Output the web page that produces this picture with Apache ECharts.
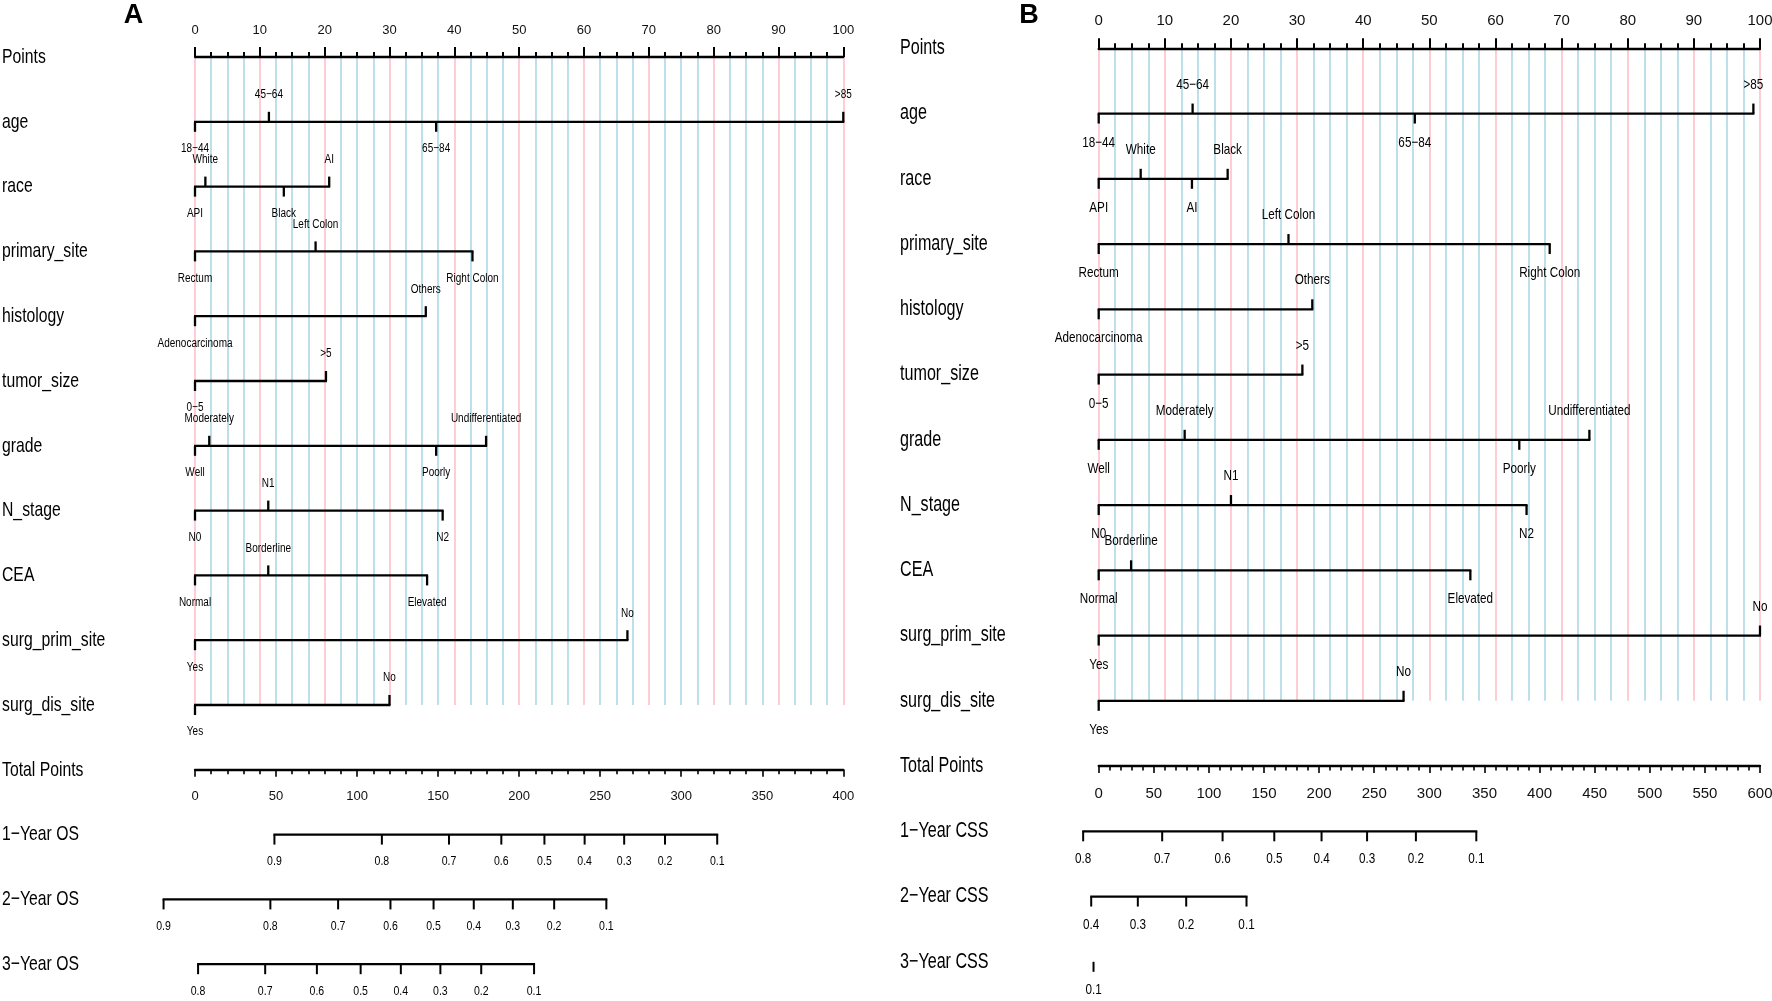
<!DOCTYPE html>
<html><head><meta charset="utf-8">
<script src="https://cdn.jsdelivr.net/npm/echarts@6/dist/echarts.min.js"></script>
<style>html,body{margin:0;padding:0;background:#fff}#c{width:1772px;height:1001px}</style>
</head><body><div id="c"></div>
<script>
// ---------- data ----------
const rowNames = ['Points','age','race','primary_site','histology','tumor_size','grade','N_stage','CEA','surg_prim_site','surg_dis_site'];

const ageLevels = ['18\u221244','45\u221264','65\u221284','>85'];
const ageA = [0, 11.4, 37.2, 100];
const ageB = [0, 14.2, 47.8, 99.0];

const raceLevels = ['API','White','Black','AI'];
const raceA = [0, 1.6, 13.7, 20.7];
const raceB = [0, 6.35, 19.5, 14.1];

const siteLevels = ['Rectum','Left Colon','Right Colon'];
const siteA = [0, 18.6, 42.8];
const siteB = [0, 28.7, 68.2];

const histLevels = ['Adenocarcinoma','Others'];
const histA = [0, 35.6];
const histB = [0, 32.3];

const sizeLevels = ['0\u22125','>5'];
const sizeA = [0, 20.2];
const sizeB = [0, 30.8];

const gradeLevels = ['Well','Moderately','Poorly','Undifferentiated'];
const gradeA = [0, 2.2, 37.2, 44.9];
const gradeB = [0, 13.0, 63.6, 74.2];

const nLevels = ['N0','N1','N2'];
const nA = [0, 11.3, 38.2];
const nB = [0, 20.0, 64.7];

const ceaLevels = ['Normal','Borderline','Elevated'];
const ceaA = [0, 11.3, 35.8];
const ceaB = [0, 4.9, 56.2];

const surgPrimLevels = ['Yes','No'];
const surgPrimA = [0, 66.7];
const surgPrimB = [0, 100];

const surgDisLevels = ['Yes','No'];
const surgDisA = [0, 30.0];
const surgDisB = [0, 46.1];

const totalMaxA = 400;
const totalMaxB = 600;

const survNamesA = ['1\u2212Year OS','2\u2212Year OS','3\u2212Year OS'];
const os1Labels = ['0.9','0.8','0.7','0.6','0.5','0.4','0.3','0.2','0.1'];
const os1A = [49.0, 115.3, 156.7, 189.0, 215.6, 240.4, 264.8, 290.0, 322.2];
const os2Labels = ['0.9','0.8','0.7','0.6','0.5','0.4','0.3','0.2','0.1'];
const os2A = [-19.4, 46.5, 88.3, 120.6, 147.2, 172.0, 196.1, 221.6, 253.8];
const os3Labels = ['0.8','0.7','0.6','0.5','0.4','0.3','0.2','0.1'];
const os3A = [1.9, 43.3, 75.2, 102.2, 127.0, 151.4, 176.6, 209.2];

const survNamesB = ['1\u2212Year CSS','2\u2212Year CSS','3\u2212Year CSS'];
const css1Labels = ['0.8','0.7','0.6','0.5','0.4','0.3','0.2','0.1'];
const css1B = [-14.1, 57.6, 112.4, 159.3, 202.2, 243.5, 287.8, 342.6];
const css2Labels = ['0.4','0.3','0.2','0.1'];
const css2B = [-6.8, 35.5, 79.4, 134.1];
const css3Labels = ['0.1'];
const css3B = [-4.7];

// ---------- assembly ----------
const levelTable = [ageLevels, raceLevels, siteLevels, histLevels, sizeLevels, gradeLevels, nLevels, ceaLevels, surgPrimLevels, surgDisLevels];
const varsA = [ageA, raceA, siteA, histA, sizeA, gradeA, nA, ceaA, surgPrimA, surgDisA];
const varsB = [ageB, raceB, siteB, histB, sizeB, gradeB, nB, ceaB, surgPrimB, surgDisB];
const survA = [[os1Labels, os1A], [os2Labels, os2A], [os3Labels, os3A]];
const survB = [[css1Labels, css1B], [css2Labels, css2B], [css3Labels, css3B]];

const FF = '"Liberation Sans", Arial, sans-serif';
const panels = [
  {letter:'A', letterX:133.5, left:195, width:648.3, top:57, step:64.8, labelLeft:2,
   rowFont:21, rowSX:0.75, smallFont:12.5, smallSX:0.8, lblOff:27, tickLen:10,
   axisFont:13, survFont:13.5, survSX:0.78, survOff:27,
   vars:varsA, surv:survA, survNames:survNamesA, totalMax:totalMaxA},
  {letter:'B', letterX:1029, left:1098.7, width:661.3, top:48.3, step:65.25, labelLeft:900,
   rowFont:21.5, rowSX:0.75, smallFont:15, smallSX:0.78, lblOff:29, tickLen:10,
   axisFont:15, survFont:15, survSX:0.78, survOff:28,
   vars:varsB, surv:survB, survNames:survNamesB, totalMax:totalMaxB}
];

function txt(s, x, y, size, align, sx) {
  return {type:'text', x:x, y:y, scaleX:sx, silent:true,
    style:{text:s, fill:'#000', fontSize:size, fontFamily:FF, align:align, verticalAlign:'middle'}};
}
function seg(x1, y1, x2, y2, w) {
  return {type:'line', silent:true, shape:{x1:x1, y1:y1, x2:x2, y2:y2},
    style:{stroke:'#000', lineWidth:w, lineCap:'butt'}};
}

const LW = 2.3;
const grid = [], xAxis = [], yAxis = [], series = [], graphic = [];
panels.forEach((p, pi) => {
  const gPts = pi * 2, gTot = pi * 2 + 1;
  grid.push({left:p.left, top:p.top, width:p.width, height:10 * p.step, outerBoundsMode:'none'});
  grid.push({left:p.left, top:p.top + 11 * p.step, width:p.width, height:3 * p.step, outerBoundsMode:'none'});
  xAxis.push({gridIndex:gPts, type:'value', min:0, max:100, interval:10, position:'top',
    axisLine:{show:true, onZero:false, lineStyle:{color:'#000', width:LW}},
    axisTick:{show:true, length:10, lineStyle:{color:'#000', width:2}},
    minorTick:{show:true, splitNumber:4, length:5, lineStyle:{color:'#000', width:2}},
    axisLabel:{show:true, color:'#111', fontSize:p.axisFont, fontFamily:FF, margin:20},
    splitLine:{show:true, lineStyle:{color:'#FFC0CB', width:1.6}},
    minorSplitLine:{show:true, lineStyle:{color:'#ADD8E6', width:1.6}}});
  xAxis.push({gridIndex:gTot, type:'value', min:0, max:p.totalMax, interval:50, position:'top',
    axisLine:{show:true, onZero:false, lineStyle:{color:'#000', width:LW}},
    axisTick:{show:true, inside:true, length:7, lineStyle:{color:'#000', width:1.6}},
    minorTick:{show:true, splitNumber:5, length:4.5, lineStyle:{color:'#000', width:1.6}},
    axisLabel:{show:true, inside:true, color:'#111', fontSize:p.axisFont, fontFamily:FF, margin:20},
    splitLine:{show:false}});
  yAxis.push({gridIndex:gPts, type:'value', min:0, max:10, inverse:true, show:false});
  yAxis.push({gridIndex:gTot, type:'value', min:0, max:3, inverse:true, show:false});

  series.push({type:'custom', coordinateSystem:'cartesian2d', xAxisIndex:gPts, yAxisIndex:gPts,
    clip:false, silent:true, z:5,
    data: rowNames.map((n, r) => [0, r]),
    renderItem: function (params, api) {
      const r = params.dataIndex;
      const base = api.coord([0, r]);
      const ch = [txt(rowNames[r], p.labelLeft, base[1], p.rowFont, 'left', p.rowSX)];
      if (r > 0) {
        const lv = levelTable[r - 1], pts = p.vars[r - 1];
        const minP = Math.min.apply(null, pts), maxP = Math.max.apply(null, pts);
        const a = api.coord([minP, r]), b = api.coord([maxP, r]);
        ch.push(seg(a[0] - 1, a[1], b[0] + 1, b[1], LW));
        const order = pts.map((v, i) => i).sort((i, j) => pts[i] - pts[j]);
        order.forEach((i, k) => {
          const dir = k % 2 === 0 ? 1 : -1;
          const c = api.coord([pts[i], r]);
          ch.push(seg(c[0], c[1], c[0], c[1] + dir * p.tickLen, LW));
          ch.push(txt(lv[i], c[0], c[1] + dir * p.lblOff, p.smallFont, 'center', p.smallSX));
        });
      }
      return {type:'group', children:ch};
    }});

  const totRows = ['Total Points'].concat(p.survNames);
  series.push({type:'custom', coordinateSystem:'cartesian2d', xAxisIndex:gTot, yAxisIndex:gTot,
    clip:false, silent:true, z:5,
    data: totRows.map((n, r) => [0, r]),
    renderItem: function (params, api) {
      const r = params.dataIndex;
      const base = api.coord([0, r]);
      const ch = [txt(totRows[r], p.labelLeft, base[1], p.rowFont, 'left', p.rowSX)];
      if (r > 0) {
        const labs = p.surv[r - 1][0], pos = p.surv[r - 1][1];
        const a = api.coord([Math.min.apply(null, pos), r]), b = api.coord([Math.max.apply(null, pos), r]);
        if (b[0] - a[0] > 0.5) ch.push(seg(a[0] - 1, a[1], b[0] + 1, b[1], LW));
        pos.forEach((v, i) => {
          const c = api.coord([v, r]);
          ch.push(seg(c[0], c[1], c[0], c[1] + 10, 2));
          ch.push(txt(labs[i], c[0], c[1] + p.survOff, p.survFont, 'center', p.survSX));
        });
      }
      return {type:'group', children:ch};
    }});

  graphic.push({type:'text', x:p.letterX, y:16, silent:true,
    style:{text:p.letter, fill:'#000', fontSize:27, fontWeight:'bold', fontFamily:FF, align:'center', verticalAlign:'middle'}});
});

const chart = echarts.init(document.getElementById('c'), null, {renderer:'canvas'});
chart.setOption({
  animation:false,
  backgroundColor:'#fff',
  grid: grid, xAxis: xAxis, yAxis: yAxis, series: series, graphic: graphic
});
</script></body></html>
